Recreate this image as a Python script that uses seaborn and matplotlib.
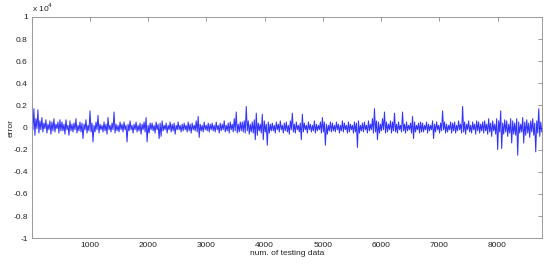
import matplotlib
matplotlib.use('Agg')
import matplotlib.pyplot as plt
import seaborn as sns
import numpy as np
import pandas as pd

# error, in hundreds, upper / lower swing per 2-px column
err_upper = [22, 17, 8, 16, 6, 9, 4, 7, 3, 6, 5, 8, 3, 5, 7,
             5, 3, 7, 2, 6, 3, 4, 8, 2, 5, 4, 3, 7, 2, 15,
             4, 2, 5, 11, 3, 2, 5, 3, 9, 2, 4, 14, 3, 2, 5,
             3, 5, 2, 3, 6, 2, 3, 5, 2, 4, 3, 5, 9, 2, 4,
             4, 2, 5, 3, 4, 6, 2, 4, 2, 5, 3, 4, 2, 5, 2,
             3, 4, 2, 5, 3, 4, 2, 6, 10, 3, 2, 5, 2, 4, 3,
             4, 2, 5, 2, 4, 3, 6, 2, 4, 5, 3, 8, 14, 3, 5,
             5, 6, 19, 6, 3, 5, 7, 13, 4, 3, 12, 6, 3, 5, 3,
             4, 2, 5, 3, 6, 2, 4, 5, 2, 6, 13, 3, 5, 2, 4,
             12, 4, 2, 5, 3, 2, 6, 3, 2, 5, 9, 5, 3, 2, 5,
             4, 2, 5, 3, 2, 6, 4, 2, 5, 3, 2, 5, 4, 6, 2,
             4, 5, 2, 6, 3, 8, 17, 6, 5, 3, 8, 14, 5, 3, 6,
             5, 13, 3, 5, 2, 14, 3, 5, 2, 4, 10, 5, 2, 4, 5,
             4, 2, 5, 3, 2, 6, 3, 5, 2, 4, 15, 5, 3, 2, 5,
             4, 5, 2, 6, 3, 19, 5, 3, 6, 2, 5, 3, 6, 5, 3,
             5, 6, 3, 8, 4, 6, 3, 8, 6, 15, 4, 7, 6, 3, 8,
             6, 4, 8, 5, 3, 9, 5, 7, 4, 6, 8, 4, 6, 17, 5]
err_lower = [-2, -7, -1, -5, -2, -4, -1, -5, -2, -6, -3, -4, -1, -5, -3,
             -3, -6, -2, -7, -3, -4, -2, -5, -3, -4, -10, -2, -5, -3, -4,
             -13, -4, -2, -5, -2, -4, -3, -6, -2, -4, -2, -5, -3, -4, -2,
             -4, -2, -13, -3, -2, -5, -2, -4, -3, -6, -2, -4, -13, -5, -2,
             -3, -5, -2, -10, -8, -3, -2, -5, -2, -4, -3, -6, -2, -2, -4,
             -3, -2, -4, -3, -5, -2, -3, -4, -9, -3, -4, -2, -3, -4, -2,
             -3, -4, -2, -5, -3, -2, -4, -3, -5, -2, -4, -3, -5, -4, -3,
             -4, -5, -3, -6, -4, -5, -11, -7, -3, -5, -11, -4, -16, -5, -3,
             -3, -5, -2, -4, -2, -5, -3, -4, -6, -2, -4, -5, -2, -4, -11,
             -4, -2, -5, -2, -4, -3, -5, -3, -2, -5, -4, -16, -6, -3, -4,
             -3, -4, -2, -5, -3, -4, -2, -5, -4, -2, -5, -4, -18, -5, -3,
             -4, -2, -5, -3, -2, -5, -4, -11, -5, -3, -2, -5, -4, -2, -5,
             -3, -4, -5, -2, -4, -3, -5, -3, -2, -5, -10, -4, -2, -5, -4,
             -4, -2, -5, -3, -2, -10, -4, -2, -5, -3, -2, -5, -4, -2, -5,
             -3, -5, -3, -2, -5, -4, -6, -2, -4, -5, -2, -6, -3, -5, -3,
             -5, -3, -6, -4, -8, -3, -6, -20, -4, -19, -6, -4, -8, -5, -14,
             -6, -7, -25, -5, -4, -14, -7, -5, -9, -4, -7, -22, -5, -8, -4]
n_data = 8760
yticks = [-10000, -8000, -6000, -4000, -2000, 0, 2000, 4000, 6000, 8000, 10000]
ytick_labels = ['-1', '-0.8', '-0.6', '-0.4', '-0.2', '0', '0.2', '0.4', '0.6', '0.8', '1']
xticks = [1000, 2000, 3000, 4000, 5000, 6000, 7000, 8000]

err = np.empty(len(err_upper) * 2)
err[0::2] = np.array(err_upper) * 100
err[1::2] = np.array(err_lower) * 100
df = pd.DataFrame({'idx': np.linspace(1, n_data, len(err)), 'error': err})

sns.set_style('white')
plt.rcParams['font.family'] = ['Liberation Sans', 'DejaVu Sans']
plt.rcParams['path.simplify'] = False  # keep every zigzag vertex

fig = plt.figure(figsize=(5.5, 2.64), dpi=100)
ax = fig.add_axes([0.058, 0.098, 0.927, 0.838])

sns.lineplot(data=df, x='idx', y='error', ax=ax, color='#0000ff', linewidth=0.75, alpha=0.8)

ax.set_xlim(1, n_data)
ax.set_ylim(-10000, 10000)
ax.set_xticks(xticks)
ax.set_yticks(yticks)
ax.set_yticklabels(ytick_labels)
ax.tick_params(direction='in', length=3, width=0.6, color='#888888', labelsize=6,
               labelcolor='#222222', top=True, right=True, pad=3)
for s in ax.spines.values():
    s.set_color('#999999')
    s.set_linewidth(0.7)
ax.set_xlabel('num. of testing data', fontsize=6, color='#222222')
ax.set_ylabel('error', fontsize=6, color='#222222')
ax.xaxis.set_label_coords(0.5, -0.052)
ax.yaxis.set_label_coords(-0.034, 0.5)
ax.text(0.0, 1.015, r'x 10$^4$', transform=ax.transAxes, fontsize=6, color='#222222',
        ha='left', va='bottom')

plt.savefig('out.png', dpi=100)
